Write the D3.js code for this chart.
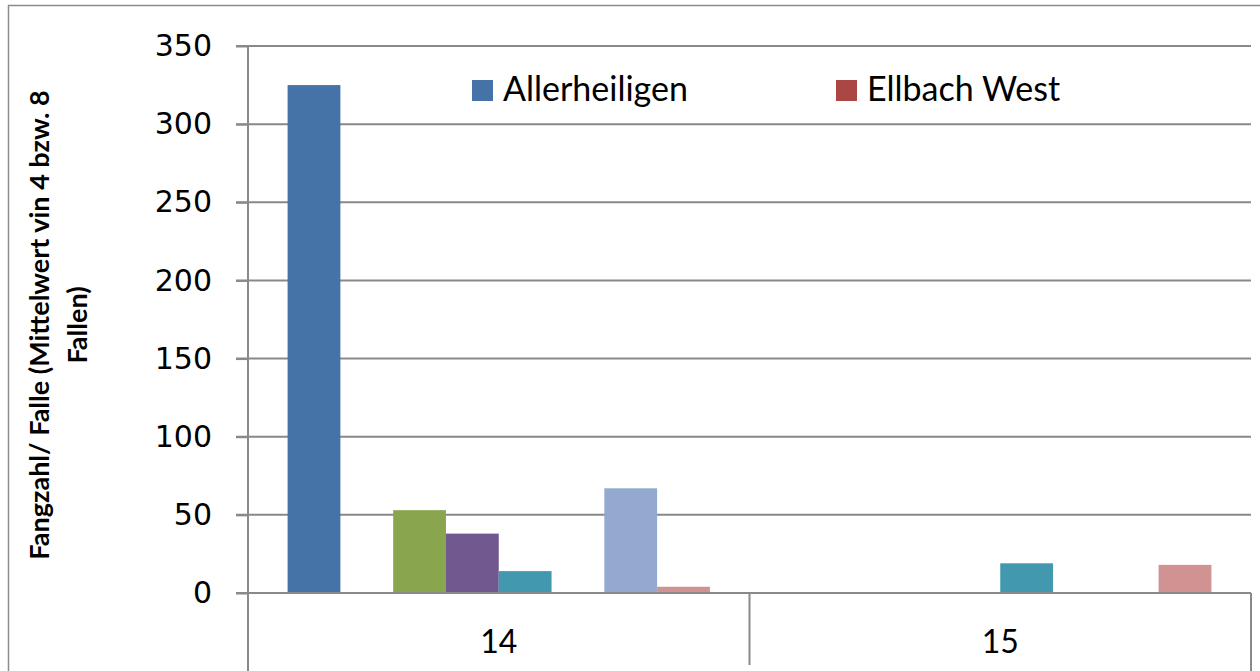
<!DOCTYPE html>
<html>
<head>
<meta charset="utf-8">
<script src="https://cdn.jsdelivr.net/npm/d3@7"></script>
<style>
  body { margin: 0; background: #fff; }
  svg { display: block; }
</style>
</head>
<body>
<div id="chart"></div>
<script>
// categories on the x axis
const categories = ["14", "15"];
// series (only the first two are named in the legend of the original)
const seriesNames = ["Allerheiligen", "Ellbach West", "", "", "", "", "", ""];
const seriesColors = ["#4572a7", "#aa4643", "#89a54e", "#71588f", "#4198af", "#db843d", "#93a9cf", "#d19392"];
// values per series, one per category
const seriesValues = [
    [325, 0],
    [0, 0],
    [53, 0],
    [38, 0],
    [14, 19],
    [0, 0],
    [67, 0],
    [4, 18]
];
const yTicks = [0, 50, 100, 150, 200, 250, 300, 350];

var width = 1260;
var height = 671;
var plotLeft = 248, plotRight = 1251, plotTop = 46, plotBottom = 593;

var svg = d3.select("#chart")
    .append("svg")
    .attr("width", width)
    .attr("height", height);

// outer chart border (right/bottom fall outside the picture)
svg.append("path")
    .attr("d", "M8.5," + height + "V5.5H" + width)
    .attr("fill", "none")
    .attr("stroke", "#8c8c8c")
    .attr("stroke-width", 1.5);

var y = d3.scaleLinear().domain([0, 350]).range([plotBottom, plotTop]);

var x0 = d3.scaleBand()
    .domain(categories)
    .range([plotLeft, plotRight])
    .paddingInner(0)
    .paddingOuter(0);

var x1 = d3.scaleBand()
    .domain(d3.range(seriesValues.length))
    .range([0, x0.bandwidth()])
    .paddingInner(0)
    .paddingOuter(0.75);

// gridlines
svg.append("g")
    .selectAll("line")
    .data(yTicks.filter(d => d > 0))
    .enter()
    .append("line")
    .attr("x1", plotLeft - 12)
    .attr("x2", plotRight)
    .attr("y1", d => y(d))
    .attr("y2", d => y(d))
    .attr("stroke", "#898989")
    .attr("stroke-width", 2);

// bars
var rows = [];
seriesValues.forEach((vals, s) => {
    vals.forEach((v, c) => {
        rows.push({ s: s, cat: categories[c], value: v });
    });
});

svg.append("g")
    .selectAll("rect")
    .data(rows.filter(d => d.value > 0))
    .enter()
    .append("rect")
    .attr("x", d => x0(d.cat) + x1(d.s))
    .attr("y", d => y(d.value))
    .attr("width", x1.bandwidth())
    .attr("height", d => y(0) - y(d.value))
    .attr("fill", d => seriesColors[d.s]);

// y axis
var yAxis = svg.append("g")
    .attr("transform", "translate(" + plotLeft + ",0)")
    .call(d3.axisLeft(y).tickValues(yTicks).tickSize(12).tickPadding(24));

yAxis.select(".domain").remove();
yAxis.selectAll(".tick line")
    .attr("stroke", "#898989")
    .attr("stroke-width", 2);
yAxis.selectAll(".tick text")
    .attr("fill", "#000")
    .style("font-family", "'DejaVu Sans', sans-serif")
    .style("font-size", "30px");

svg.append("line")
    .attr("x1", plotLeft).attr("x2", plotLeft)
    .attr("y1", plotTop).attr("y2", height)
    .attr("stroke", "#898989")
    .attr("stroke-width", 2);

// x axis baseline and category dividers
svg.append("line")
    .attr("x1", plotLeft - 12).attr("x2", plotRight)
    .attr("y1", plotBottom).attr("y2", plotBottom)
    .attr("stroke", "#898989")
    .attr("stroke-width", 2);

svg.append("g")
    .selectAll("line")
    .data(categories)
    .enter()
    .append("line")
    .attr("x1", d => x0(d) + x0.bandwidth())
    .attr("x2", d => x0(d) + x0.bandwidth())
    .attr("y1", plotBottom)
    .attr("y2", (d, i) => i == categories.length - 1 ? height : 665)
    .attr("stroke", "#898989")
    .attr("stroke-width", 2);

svg.append("g")
    .selectAll("text")
    .data(categories)
    .enter()
    .append("text")
    .attr("x", d => x0(d) + x0.bandwidth() / 2)
    .attr("y", 653)
    .attr("text-anchor", "middle")
    .style("font-family", "Lato, sans-serif")
    .style("font-size", "32px")
    .text(d => d);

// y axis title
var title = svg.append("text")
    .attr("transform", "translate(0,325) rotate(-90)")
    .attr("text-anchor", "middle")
    .style("font-family", "Lato, sans-serif")
    .style("font-weight", "bold")
    .style("font-size", "27px");

title.append("tspan").attr("x", 0).attr("y", 49).text("Fangzahl/ Falle (Mittelwert vin 4 bzw. 8");
title.append("tspan").attr("x", 0).attr("y", 87).text("Fallen)");

// legend (only the first two series are shown)
var legendX = [472, 836];
var legend = svg.append("g")
    .selectAll("g")
    .data(seriesNames.slice(0, 2))
    .enter()
    .append("g")
    .attr("transform", (d, i) => "translate(" + legendX[i] + ",80)");

legend.append("rect")
    .attr("width", 21)
    .attr("height", 21)
    .attr("fill", (d, i) => seriesColors[i]);

legend.append("text")
    .attr("x", 31)
    .attr("y", 21)
    .style("font-family", "Lato, sans-serif")
    .style("font-size", "34px")
    .text(d => d);
</script>
</body>
</html>
